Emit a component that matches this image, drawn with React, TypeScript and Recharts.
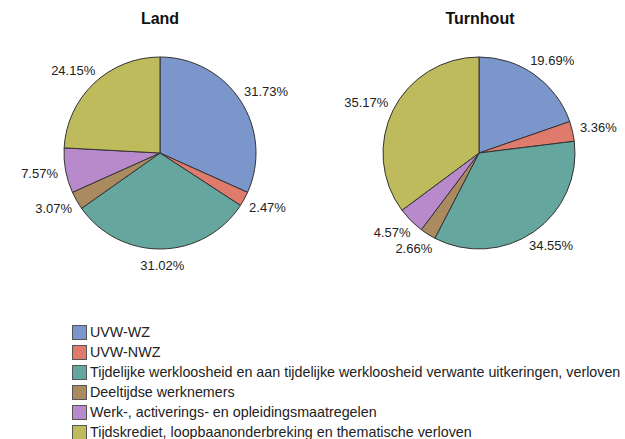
import { PieChart, Pie, Cell } from 'recharts';

const categories = [
  'UVW-WZ',
  'UVW-NWZ',
  'Tijdelijke werkloosheid en aan tijdelijke werkloosheid verwante uitkeringen, verloven',
  'Deeltijdse werknemers',
  'Werk-, activerings- en opleidingsmaatregelen',
  'Tijdskrediet, loopbaanonderbreking en thematische verloven',
];
const landValues = [31.73, 2.47, 31.02, 3.07, 7.57, 24.15];
const turnhoutValues = [19.69, 3.36, 34.55, 2.66, 4.57, 35.17];
const colors = ['#7b96ca', '#de7b6c', '#65a69f', '#a98b5f', '#b98acb', '#bdbb5b'];

const FONT = 'Arial, "Liberation Sans", sans-serif';
const RADIAN = Math.PI / 180;

const toRows = (values: number[]) => categories.map((name, i) => ({ name, value: values[i] }));

const renderLabel = (p: any) => {
  const { cx, cy, midAngle, outerRadius, value } = p;
  const text = `${value.toFixed(2)}%`;
  const hw = text.length * 3.7;
  const dx = Math.cos(-midAngle * RADIAN);
  const dy = Math.sin(-midAngle * RADIAN);
  const x = cx + dx * (outerRadius + 8 + hw);
  const y = cy + dy * (outerRadius + 17);
  return (
    <text x={x} y={y} textAnchor="middle" dominantBaseline="central" fill="#222" fontSize={13} fontFamily={FONT}>
      {text}
    </text>
  );
};

export default function App() {
  return (
    <div style={{ position: 'absolute', left: 0, top: 0, width: 625, height: 439, background: '#fff', fontFamily: FONT, overflow: 'hidden' }}>
      <div style={{ position: 'absolute', left: 110, top: 10, width: 100, textAlign: 'center', fontWeight: 'bold', fontSize: 16, color: '#111' }}>Land</div>
      <div style={{ position: 'absolute', left: 430, top: 10, width: 100, textAlign: 'center', fontWeight: 'bold', fontSize: 16, color: '#111' }}>Turnhout</div>
      <PieChart width={625} height={300} margin={{ top: 0, right: 0, bottom: 0, left: 0 }} style={{ position: 'absolute', left: 0, top: 0 }}>
        {[landValues, turnhoutValues].map((vals, k) => (
          <Pie
            key={k}
            data={toRows(vals)}
            dataKey="value"
            cx={k === 0 ? 160 : 479}
            cy={153}
            outerRadius={96}
            startAngle={90}
            endAngle={-270}
            stroke="#333"
            strokeWidth={1}
            label={renderLabel}
            labelLine={false}
            isAnimationActive={false}
          >
            {vals.map((_, i) => (
              <Cell key={i} fill={colors[i]} />
            ))}
          </Pie>
        ))}
      </PieChart>
      <div style={{ position: 'absolute', left: 72, top: 322 }}>
        {categories.map((c, i) => (
          <div key={i} style={{ display: 'flex', alignItems: 'center', height: 20, fontSize: 14.3, lineHeight: '16px', color: '#222', whiteSpace: 'nowrap' }}>
            <span style={{ width: 13, height: 13, background: colors[i], border: '1px solid #555', marginRight: 3, flexShrink: 0 }} />
            {c}
          </div>
        ))}
      </div>
    </div>
  );
}
